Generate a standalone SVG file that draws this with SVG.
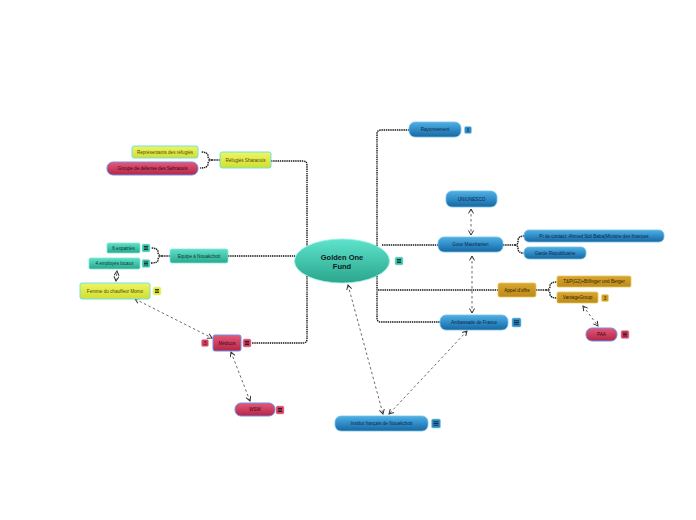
<svg xmlns="http://www.w3.org/2000/svg" width="696" height="520" viewBox="0 0 696 520">
<defs>
<linearGradient id="gBlue" x1="0" y1="0" x2="0" y2="1"><stop offset="0" stop-color="#52b0e2"/><stop offset="0.5" stop-color="#2f8cc8"/><stop offset="1" stop-color="#1a679e"/></linearGradient>
<linearGradient id="gTeal" x1="0" y1="0" x2="0" y2="1"><stop offset="0" stop-color="#5ee0c8"/><stop offset="1" stop-color="#2aa88e"/></linearGradient>
<linearGradient id="gYel" x1="0" y1="0" x2="0" y2="1"><stop offset="0" stop-color="#eef566"/><stop offset="1" stop-color="#d2de2c"/></linearGradient>
<linearGradient id="gRed" x1="0" y1="0" x2="0" y2="1"><stop offset="0" stop-color="#e4587a"/><stop offset="1" stop-color="#b42646"/></linearGradient>
<linearGradient id="gGold" x1="0" y1="0" x2="0" y2="1"><stop offset="0" stop-color="#d8a630"/><stop offset="1" stop-color="#bb8a1a"/></linearGradient>
<linearGradient id="gCen" x1="0" y1="0" x2="0" y2="1"><stop offset="0" stop-color="#5ee3cc"/><stop offset="1" stop-color="#2aa68c"/></linearGradient>
<marker id="arr" viewBox="0 0 6 6" refX="5" refY="3" markerWidth="6" markerHeight="6" orient="auto-start-reverse" markerUnits="userSpaceOnUse">
<path d="M0.5,0.5 L5,3 L0.5,5.5" fill="none" stroke="#333" stroke-width="1"/>
</marker>
</defs>
<style>
.c{fill:none;stroke:#111;stroke-width:1.4;stroke-dasharray:1.4 0.8}
.r{fill:none;stroke:#444;stroke-width:0.8;stroke-dasharray:2.5 2.5;marker-start:url(#arr);marker-end:url(#arr)}
.t{font-family:"Liberation Sans",Arial,sans-serif;font-size:4.6px;text-anchor:middle;dominant-baseline:central}
.blue rect.n{fill:url(#gBlue);stroke:#6cc2ee;stroke-width:0.8}
.blue text{fill:#0b2848}
.teal rect.n{fill:url(#gTeal);stroke:#7ee8d6;stroke-width:0.8}
.teal text{fill:#0b3a30}
.yel rect.n{fill:url(#gYel);stroke:#6ee2e6;stroke-width:1}
.yel text{fill:#4a4a10}
.red rect.n{fill:url(#gRed);stroke:#6f8fe6;stroke-width:1}
.red text{fill:#3a0818}
.gold rect.n{fill:url(#gGold);stroke:#ecc458;stroke-width:0.8}
.gold text{fill:#2e2000}
.ib{fill:#2f8cc8;stroke:#8fd0f0;stroke-width:0.6}
.it{fill:#3cc0a8;stroke:#9ef0e0;stroke-width:0.6}
.iy{fill:#e0ec40;stroke:#f4f8a0;stroke-width:0.6}
.ir{fill:#d04064;stroke:#f0a0b4;stroke-width:0.6}
.ig{fill:#d0a028;stroke:#f0d070;stroke-width:0.6}
.il{stroke:#111;stroke-width:0.8}
</style>

<g id="connectors">
<path class="c" d="M271 161 H303 Q307 161 307 165 V246"/>
<path class="c" d="M307 276 V339 Q307 343 303 343 H252"/>
<path class="c" d="M228 256 H295"/>
<path class="c" d="M377 246 V134 Q377 130 381 130 H409"/>
<path class="c" d="M382 245 H438"/>
<path class="c" d="M377 276 V318 Q377 322 381 322 H440"/>
<path class="c" d="M378 290 H498"/>
<path class="c" d="M220 160 H212 M212 160 Q208 160 208 156 Q208 152 201 152 M212 160 Q208 160 208 164 Q208 168 200 168"/>
<path class="c" d="M170 256 H162 M162 256 Q158 256 158 252 Q158 248 151 248 M162 256 Q158 256 158 260 Q158 263 151 263"/>
<path class="c" d="M503 245 H515 M515 245 Q518 245 518 241 Q518 236 524 236 M515 245 Q518 245 518 249 Q518 253 524 253"/>
<path class="c" d="M536 290 H546 M546 290 Q550 290 550 286 Q550 282 557 282 M546 290 Q550 290 550 294 Q550 298 557 298"/>
<path class="r" d="M471 209 L471 235"/>
<path class="r" d="M472 256 L472 313"/>
<path class="r" d="M116 281 L117 271"/>
<path class="r" d="M135 299 L212 338"/>
<path class="r" d="M231 352 L250 401"/>
<path class="r" d="M348 285 L383 414"/>
<path class="r" d="M467 331 L389 414"/>
<path class="r" d="M583 306 L598 326"/>
</g>

<g id="center">
<ellipse cx="342" cy="261" rx="47.5" ry="22" fill="url(#gCen)" stroke="#8ef0de" stroke-width="0.8"/>
<text x="342" y="257" font-family="'Liberation Sans',Arial,sans-serif" font-size="7.5" font-weight="bold" text-anchor="middle" dominant-baseline="central" fill="#10201c">Golden One</text>
<text x="342" y="266" font-family="'Liberation Sans',Arial,sans-serif" font-size="7.5" font-weight="bold" text-anchor="middle" dominant-baseline="central" fill="#10201c">Fund</text>
<rect class="it" x="395" y="257" width="8" height="8" rx="1.5"/>
<path class="il" d="M397 259.5 H401 M397 261 H401 M397 262.5 H401"/>
</g>

<g id="refugies" class="yel">
<rect class="n" x="220" y="152" width="51" height="16" rx="2"/>
<text class="t" x="245.5" y="160">Réfugiés Sharaouis</text>
</g>
<g id="representants" class="yel">
<rect class="n" x="132" y="146" width="66" height="12" rx="2"/>
<text class="t" x="165" y="152">Représentants des réfugiés</text>
</g>
<g id="groupe" class="red">
<rect class="n" x="107" y="162" width="91" height="13" rx="6"/>
<text class="t" x="152.5" y="168.5">Groupe de défense des Sahraouis</text>
</g>

<g id="equipe" class="teal">
<rect class="n" x="170" y="249" width="58" height="14" rx="2"/>
<text class="t" x="199" y="256">Equipe à Nouakchott</text>
</g>
<g id="expatries" class="teal">
<rect class="n" x="107" y="243" width="33" height="10" rx="1.5"/>
<text class="t" x="123.5" y="248">6 expatriés</text>
<rect class="it" x="142" y="244" width="8" height="8" rx="1.5"/>
<path class="il" d="M144 246.5 H148 M144 248 H148 M144 249.5 H148"/>
</g>
<g id="employes" class="teal">
<rect class="n" x="89" y="258" width="51" height="11" rx="1.5"/>
<text class="t" x="114.5" y="263.5">4 employés locaux</text>
<rect class="it" x="142" y="259.5" width="8" height="8" rx="1.5"/>
<path class="il" d="M144 262 H148 M144 263.5 H148 M144 265 H148"/>
</g>
<g id="femme" class="yel">
<rect class="n" x="80" y="283" width="70" height="16" rx="2"/>
<text class="t" x="115" y="291">Femme du chauffeur Momo</text>
<rect class="iy" x="153" y="287" width="8" height="8" rx="1.5"/>
<path class="il" d="M155 289.5 H159 M155 291 H159 M155 292.5 H159"/>
</g>
<g id="medicos" class="red">
<rect class="n" x="213" y="335" width="28" height="16" rx="2"/>
<text class="t" x="227" y="343">Médicos</text>
<rect class="ir" x="201.5" y="339.5" width="7" height="7" rx="1.5"/>
<text class="t" x="205" y="343" style="fill:#3a0818">3</text>
<rect class="ir" x="243" y="339" width="8" height="8" rx="1.5"/>
<path class="il" d="M245 341.5 H249 M245 343 H249 M245 344.5 H249"/>
</g>
<g id="wsw" class="red">
<rect class="n" x="235" y="403" width="40" height="13" rx="6"/>
<text class="t" x="255" y="409.5">WSW</text>
<rect class="ir" x="276" y="406" width="8" height="8" rx="1.5"/>
<path class="il" d="M278 408.5 H282 M278 410 H282 M278 411.5 H282"/>
</g>

<g id="rayonnement" class="blue">
<rect class="n" x="409" y="122" width="52" height="15" rx="6"/>
<text class="t" x="435" y="129.5">Rayonnement</text>
<rect class="ib" x="464.5" y="126.5" width="7" height="7" rx="1.5"/>
<text class="t" x="468" y="130">6</text>
</g>
<g id="unesco" class="blue">
<rect class="n" x="446" y="191" width="51" height="16" rx="6"/>
<text class="t" x="471.5" y="199">UN/UNESCO</text>
</g>
<g id="gouv" class="blue">
<rect class="n" x="438" y="237" width="65" height="15" rx="6"/>
<text class="t" x="470.5" y="244.5">Gouv Mauritanien</text>
</g>
<g id="contact" class="blue">
<rect class="n" x="524" y="230" width="140" height="12" rx="5"/>
<text class="t" x="594" y="236">Pt de contact: Ahmed Sidi Baba(Ministre des finances</text>
</g>
<g id="garde" class="blue">
<rect class="n" x="524" y="247" width="62" height="12" rx="5"/>
<text class="t" x="555" y="253">Garde Républicaine</text>
</g>
<g id="appel" class="gold">
<rect class="n" x="498" y="283" width="38" height="14" rx="2"/>
<text class="t" x="517" y="290">Appel d'offre</text>
</g>
<g id="tp" class="gold">
<rect class="n" x="557" y="276" width="74" height="11" rx="1.5"/>
<text class="t" x="594" y="281.5">T&amp;P(G2)+Bilfinger und Berger</text>
</g>
<g id="vantage" class="gold">
<rect class="n" x="557" y="292" width="41" height="11" rx="1.5"/>
<text class="t" x="577.5" y="297.5">VantageGroup</text>
<rect class="ig" x="601.5" y="294.5" width="7" height="7" rx="1.5"/>
<text class="t" x="605" y="298" style="fill:#2e2000">3</text>
</g>
<g id="paa" class="red">
<rect class="n" x="586" y="328" width="31" height="13" rx="6"/>
<text class="t" x="601.5" y="334.5">PAA</text>
<rect class="ir" x="621" y="330.5" width="8" height="8" rx="1.5"/>
<path class="il" d="M623 333 H627 M623 334.5 H627 M623 336 H627"/>
</g>
<g id="ambassade" class="blue">
<rect class="n" x="440" y="315" width="68" height="15" rx="6"/>
<text class="t" x="474" y="322.5">Ambassade de France</text>
<rect class="ib" x="512" y="318" width="9" height="9" rx="1.5"/>
<path class="il" d="M514 320.8 H519 M514 322.5 H519 M514 324.2 H519"/>
</g>
<g id="institut" class="blue">
<rect class="n" x="335" y="416" width="93" height="15" rx="6"/>
<text class="t" x="381.5" y="423.5">Institut français de Nouakchott</text>
<rect class="ib" x="431.5" y="419" width="9" height="9" rx="1.5"/>
<path class="il" d="M433.5 421.8 H438.5 M433.5 423.5 H438.5 M433.5 425.2 H438.5"/>
</g>
</svg>
